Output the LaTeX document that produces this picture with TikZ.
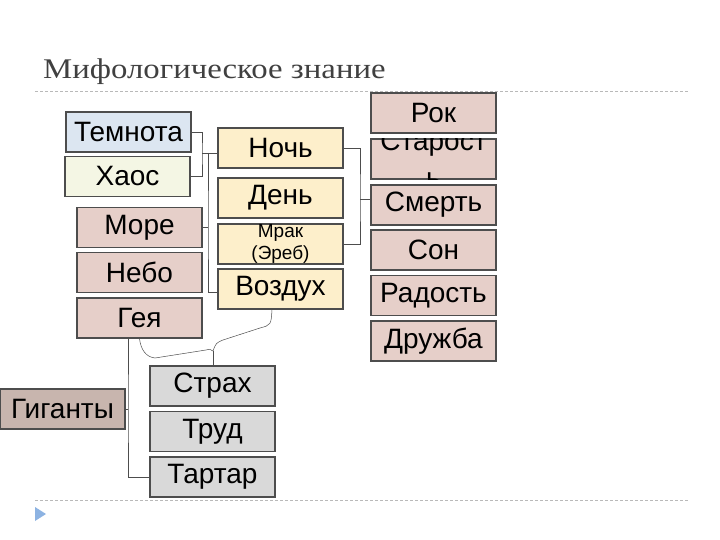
\documentclass[tikz,border=0pt]{standalone}
\usepackage{fontspec}
\setmainfont{Liberation Sans}
\newfontfamily\titlefont{Liberation Serif}[FakeStretch=1.15]
\usepackage{xcolor}
\usepackage{tikz}
\usetikzlibrary{calc}
\definecolor{edgeG}{HTML}{4D4D4D}
\definecolor{blueT}{HTML}{DCE6F1}
\definecolor{chaosF}{HTML}{F4F6E4}
\definecolor{nightF}{HTML}{FDEFCB}
\definecolor{roseF}{HTML}{E6CFC9}
\definecolor{giantF}{HTML}{C8B5AE}
\definecolor{greyF}{HTML}{D9D9D9}
\definecolor{triBlue}{HTML}{8DB3E2}

\begin{document}
\begin{tikzpicture}[x=1pt, y=-1pt,
  box/.style={rectangle, draw=edgeG, line width=1.6pt, minimum width=125pt, minimum height=40pt, inner sep=0pt, font=\fontsize{28}{32}\selectfont},
  conn/.style={draw=edgeG, line width=0.5pt},
  rule/.style={draw=gray!55, line width=0.7pt, dash pattern=on 3pt off 2pt}
]
\useasboundingbox (0,0) rectangle (720,540);

% Title and slide rules
\node[font=\titlefont\fontsize{28.5}{30}\selectfont, text=black!75, anchor=base west, inner sep=0pt] (title) at (43,79) {Мифологическое знание};
\draw[rule] (35,91) -- (688,91);
\draw[rule] (35,500) -- (688,500);
\fill[triBlue] (35,507) -- (35,521) -- (46,514) -- cycle;

% First pair
\node[box, fill=blueT] (tem) at (128.5,132) {Темнота};
\node[box, fill=chaosF] (xaos) at (127.5,176.5) {Хаос};

% Children of Chaos
\node[box, fill=nightF] (noch) at (280.5,148) {Ночь};
\node[box, fill=nightF] (den) at (280.5,198) {День};
\node[box, fill=nightF, font=\fontsize{19}{22}\selectfont, align=center] (mrak) at (280.5,244) {Мрак\\(Эреб)};
\node[box, fill=nightF] (vozd) at (280.5,289) {Воздух};

% Earth, sky, sea
\node[box, fill=roseF] (more) at (139.5,227.5) {Море};
\node[box, fill=roseF] (nebo) at (139.5,272.5) {Небо};
\node[box, fill=roseF] (geya) at (139.5,318) {Гея};

% Children of Night
\node[box, fill=roseF] (rok) at (433.5,113) {Рок};
\node[box, fill=roseF] (star) at (433.5,159) {};
\begin{scope}
  \clip (star.north west) rectangle (star.south east);
  \node[font=\fontsize{28}{37}\selectfont, align=center, inner sep=0pt] (starT) at (433.5,159.3) {Старост\\ь};
\end{scope}
\node[box, fill=roseF] (smert) at (433.5,205) {Смерть};
\node[box, fill=roseF] (son) at (433.5,250) {Сон};
\node[box, fill=roseF] (rad) at (433.5,295.5) {Радость};
\node[box, fill=roseF] (druzh) at (433.5,341) {Дружба};

% Lower row
\node[box, fill=greyF] (strah) at (212.5,386) {Страх};
\node[box, fill=greyF] (trud) at (212.5,431.5) {Труд};
\node[box, fill=greyF] (tartar) at (212.5,477) {Тартар};
\node[box, fill=giantF] (gig) at (62.5,409) {Гиганты};

% Brackets
\coordinate (b1) at (202,153);
\draw[conn] (tem.east) -| (b1) |- (xaos.east);
\draw[conn] (b1) -- (b1 -| noch.west);
\coordinate (b2) at (208,227.5);
\draw[conn] (b2 |- b1) -- (b2) |- ($(vozd.west)+(0,3)$);
\draw[conn] (more.east) -- (b2);

\coordinate (b3) at (360,199);
\draw[conn] (noch.east) -| (b3) |- (mrak.east);
\draw[conn] (b3) -- (b3 -| smert.west);

\coordinate (b4) at (213,351);
\draw[conn] (geya.south) .. controls (141,350) and (146,357) .. (155,358) -- (206,350) .. controls (210,349) .. (b4);
\draw[conn] (b4) -- (b4 |- strah.north);
\draw[conn] (b4) .. controls (216,343) .. (223,340) -- (260,328) .. controls (271,325) .. ($(vozd.south)+(-8.5,0)$);

\coordinate (b5) at (128,409);
\draw[conn] (b5 |- geya.south) -- (b5) |- (tartar.west);
\draw[conn] (gig.east) -- (b5);
\end{tikzpicture}
\end{document}
